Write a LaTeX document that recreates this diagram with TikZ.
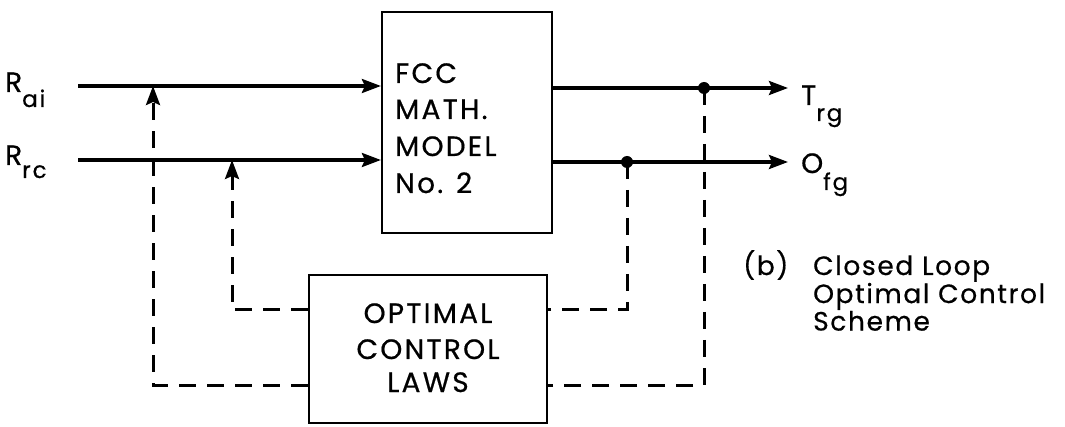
\documentclass[tikz,border=0pt]{standalone}
\usepackage{fontspec}
\setmainfont{Poppins}
\usetikzlibrary{arrows.meta}
\newcommand{\bigf}{\fontsize{28}{34}\selectfont\addfontfeature{LetterSpace=8,FakeBold=0.6}}
\newcommand{\capf}{\fontsize{26.5}{25.5}\selectfont\addfontfeature{LetterSpace=6,FakeBold=0.5}}
\newcommand{\subf}{\fontsize{23}{28}\selectfont\addfontfeature{FakeBold=0.5}}
\begin{document}
\begin{tikzpicture}[x=1pt,y=-1pt,
  tip/.style={-{Stealth[length=19pt,width=14pt,inset=3pt]}},
  sig/.style={line width=3.2pt,tip},
  fb/.style={line width=3pt,dash pattern=on 17pt off 11pt},
  fbarrow/.style={fb,tip},
  blk/.style={draw,line width=2.2pt,inner sep=0pt},
  txt/.style={inner sep=0pt,font=\bigf},
  dot/.style={circle,fill,inner sep=0pt,minimum size=12pt}]
\useasboundingbox (0,0) rectangle (1065,427);

% blocks
\node[blk,minimum width=170pt,minimum height=221pt] (model) at (467,122.5) {};
\node[blk,minimum width=238pt,minimum height=148pt] (ctrl) at (428,349) {};

% block texts
\node[txt,anchor=base west] (m1) at (395,83) {FCC};
\node[txt,anchor=base west] (m2) at (395,119) {MATH.};
\node[txt,anchor=base west] (m3) at (395,156) {MODEL};
\node[txt,anchor=base west] (m4) at (395,193) {No. 2};
\node[txt,anchor=base] (c1) at (428,323) {OPTIMAL};
\node[txt,anchor=base] (c2) at (428,359) {CONTROL};
\node[txt,anchor=base] (c3) at (428,392) {LAWS};

% input labels
\node[txt,anchor=base west] (rai) at (5,92) {R\raisebox{-15pt}{\subf ai}};
\node[txt,anchor=base west] (rrc) at (5,165) {R\raisebox{-13pt}{\subf rc}};
% output labels
\node[txt,anchor=base west] (trg) at (801,105) {T\raisebox{-16pt}{\subf rg}};
\node[txt,anchor=base west] (ofg) at (801,173) {O\raisebox{-17pt}{\subf fg}};

% caption
\node[inner sep=0pt,font=\capf,anchor=base west] (cb) at (743,275) {(b)};
\node[inner sep=0pt,font=\capf,anchor=base west,text width=250pt,align=left] (cap) at (813,275)
  {Closed Loop\\Optimal Control\\Scheme};

% coordinates
\coordinate (i1) at (78,86);
\coordinate (i2) at (78,160);
\coordinate (o1) at (788,88);
\coordinate (o2) at (788,162);
\coordinate (u1) at (153,86);
\coordinate (u2) at (232,160);
\coordinate (lw1) at ([yshift=39pt]ctrl.west);
\coordinate (lw2) at ([yshift=-36pt]ctrl.west);
\coordinate (re1) at ([yshift=39pt]ctrl.east);
\coordinate (re2) at ([yshift=-36pt]ctrl.east);

% signal lines
\draw[sig] (i1) -- (i1 -| model.west);
\draw[sig] (i2) -- (i2 -| model.west);
\draw[sig] (o1 -| model.east) -- (o1);
\draw[sig] (o2 -| model.east) -- (o2);

% pick-off dots
\node[dot] (d1) at (704,88) {};
\node[dot] (d2) at (627,162) {};

% feedback paths
\draw[fb] (d2.center) |- (re1);
\draw[fb] (d1.center) |- (re2);
\draw[fbarrow] (lw1) -| (u2);
\draw[fbarrow] (lw2) -| (u1);
\end{tikzpicture}
\end{document}
